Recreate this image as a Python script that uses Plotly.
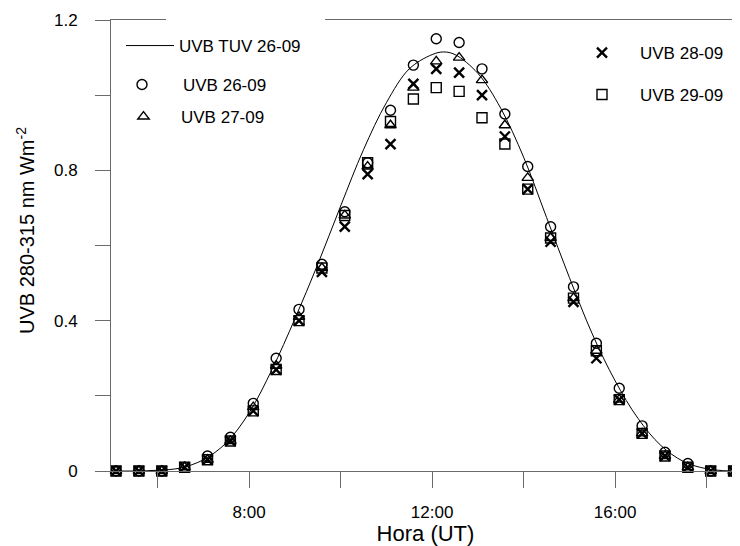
import plotly.graph_objects as go

# ---- data ----
obs_hours = [5.09, 5.59, 6.09, 6.59, 7.09, 7.59, 8.09, 8.59, 9.09, 9.59,
             10.09, 10.59, 11.09, 11.59, 12.09, 12.59, 13.09, 13.59, 14.09, 14.59,
             15.09, 15.59, 16.09, 16.59, 17.09, 17.59, 18.09, 18.59]

uvb_26 = [0, 0, 0, 0.01, 0.04, 0.09, 0.18, 0.30, 0.43, 0.55,
          0.69, 0.82, 0.96, 1.08, 1.15, 1.14, 1.07, 0.95, 0.81, 0.65,
          0.49, 0.34, 0.22, 0.12, 0.05, 0.02, 0, 0]
uvb_27 = [0, 0, 0, 0.01, 0.03, 0.08, 0.17, 0.28, 0.41, 0.54,
          0.68, 0.81, 0.92, 1.02, 1.09, 1.10, 1.04, 0.92, 0.78, 0.62,
          0.46, 0.32, 0.19, 0.10, 0.04, 0.01, 0, 0]
uvb_28 = [0, 0, 0, 0.01, 0.03, 0.08, 0.16, 0.27, 0.40, 0.53,
          0.65, 0.79, 0.87, 1.03, 1.07, 1.06, 1.00, 0.89, 0.75, 0.61,
          0.45, 0.30, 0.19, 0.10, 0.04, 0.01, 0, 0]
uvb_29 = [0, 0, 0, 0.01, 0.03, 0.08, 0.16, 0.27, 0.40, 0.54,
          0.68, 0.82, 0.93, 0.99, 1.02, 1.01, 0.94, 0.87, 0.75, 0.62,
          0.46, 0.32, 0.19, 0.10, 0.04, 0.01, 0, 0]

tuv_hours = [5.0, 5.5, 6.0, 6.5, 7.0, 7.5, 8.0, 8.5, 9.0, 9.5,
             10.0, 10.5, 11.0, 11.5, 12.0, 12.25, 12.5, 13.0, 13.5, 14.0,
             14.5, 15.0, 15.5, 16.0, 16.5, 17.0, 17.5, 18.0, 18.5]
tuv_26 = [0, 0, 0.002, 0.008, 0.03, 0.075, 0.155, 0.27, 0.405, 0.55,
          0.705, 0.855, 0.98, 1.07, 1.108, 1.115, 1.108, 1.058, 0.965, 0.835,
          0.675, 0.515, 0.365, 0.24, 0.14, 0.068, 0.025, 0.006, 0]

x_tickvals = [8, 12, 16]
x_ticktext = ["8:00", "12:00", "16:00"]
x_minorvals = [6, 10, 14, 18]
y_tickvals = [0, 0.4, 0.8, 1.2]
y_ticktext = ["0", "0.4", "0.8", "1.2"]
y_minorvals = [0.2, 0.6, 1.0]

x_title = "Hora (UT)"
y_title = "UVB 280-315 nm Wm<sup>-2</sup>"

FONT = "Arial, 'Liberation Sans', sans-serif"
OFF = 8                       # default page body margin
W, H = 740 - OFF, 546 - OFF
L, R, T, B = 103, 0, 12, 75
PW, PH = W - L - R, H - T - B


def px(x):  # page pixel -> paper fraction
    return (x - OFF - L) / PW


def py(y):
    return (OFF + H - B - y) / PH


fig = go.Figure()
fig.add_trace(go.Scatter(x=tuv_hours, y=tuv_26, mode="lines", name="UVB TUV 26-09",
                         line=dict(color="black", width=1, shape="spline", smoothing=1.0),
                         legend="legend"))
fig.add_trace(go.Scatter(x=obs_hours, y=uvb_26, mode="markers", name="UVB 26-09",
                         marker=dict(symbol="circle-open", size=10, color="black",
                                     line=dict(width=1.4)), legend="legend2", cliponaxis=False))
fig.add_trace(go.Scatter(x=obs_hours, y=uvb_27, mode="markers", name="UVB 27-09",
                         marker=dict(symbol="triangle-up-open", size=10, color="black",
                                     line=dict(width=1.4)), legend="legend3", cliponaxis=False))
fig.add_trace(go.Scatter(x=obs_hours, y=uvb_28, mode="markers", name="UVB 28-09",
                         marker=dict(symbol="x-thin-open", size=10, color="black",
                                     line=dict(width=2.4)), legend="legend4", cliponaxis=False))
fig.add_trace(go.Scatter(x=obs_hours, y=uvb_29, mode="markers", name="UVB 29-09",
                         marker=dict(symbol="square-open", size=10, color="black",
                                     line=dict(width=1.4)), legend="legend5", cliponaxis=False))

leg_common = dict(font=dict(family=FONT, size=17, color="black"),
                  bgcolor="rgba(0,0,0,0)", borderwidth=0,
                  xanchor="left", yanchor="middle")
fig.update_layout(
    legend=dict(x=px(121), y=py(46), itemwidth=48, **leg_common),
    legend2=dict(x=px(101), y=py(85), itemwidth=72, **leg_common),
    legend3=dict(x=px(106), y=py(117), itemwidth=65, **leg_common),
    legend4=dict(x=px(564), y=py(53), itemwidth=66, **leg_common),
    legend5=dict(x=px(564), y=py(95), itemwidth=66, **leg_common),
)

axis_col = "#6a6a6a"
fig.update_layout(
    width=W, height=H,
    margin=dict(l=L, r=R, t=T, b=B, pad=0),
    paper_bgcolor="white", plot_bgcolor="white",
    font=dict(family=FONT, size=17, color="black"),
    showlegend=True,
    xaxis=dict(range=[4.98, 18.73], tickmode="array", tickvals=x_tickvals, ticktext=x_ticktext,
               ticks="outside", ticklen=16, tickwidth=1, tickcolor=axis_col,
               minor=dict(tickvals=x_minorvals, ticks="outside", ticklen=16, tickwidth=1,
                          tickcolor=axis_col, showgrid=False),
               showline=True, linecolor=axis_col, linewidth=1, mirror=True,
               showgrid=False, zeroline=False, automargin=False, ticklabelstandoff=10,
               tickfont=dict(family=FONT, size=17, color="black"),
               title=dict(text=x_title, font=dict(family=FONT, size=22, color="black"), standoff=10)),
    yaxis=dict(range=[0, 1.2], tickmode="array", tickvals=y_tickvals, ticktext=y_ticktext,
               ticks="outside", ticklen=15, tickwidth=1, tickcolor=axis_col,
               minor=dict(tickvals=y_minorvals, ticks="outside", ticklen=15, tickwidth=1,
                          tickcolor=axis_col, showgrid=False),
               showline=True, linecolor=axis_col, linewidth=1, mirror=False,
               showgrid=False, zeroline=False, ticklabelstandoff=14, automargin=False,
               tickfont=dict(family=FONT, size=17, color="black")),
    annotations=[dict(text=y_title, xref="paper", yref="paper", x=px(25), y=py(231),
                      xanchor="center", yanchor="middle", textangle=-90, showarrow=False,
                      font=dict(family=FONT, size=20, color="black"))],
    shapes=[dict(type="rect", xref="paper", yref="paper", x0=px(166), x1=px(325),
                 y0=py(23), y1=py(17), fillcolor="white", line=dict(width=0), layer="above")],
)

fig.write_html("out.html")
